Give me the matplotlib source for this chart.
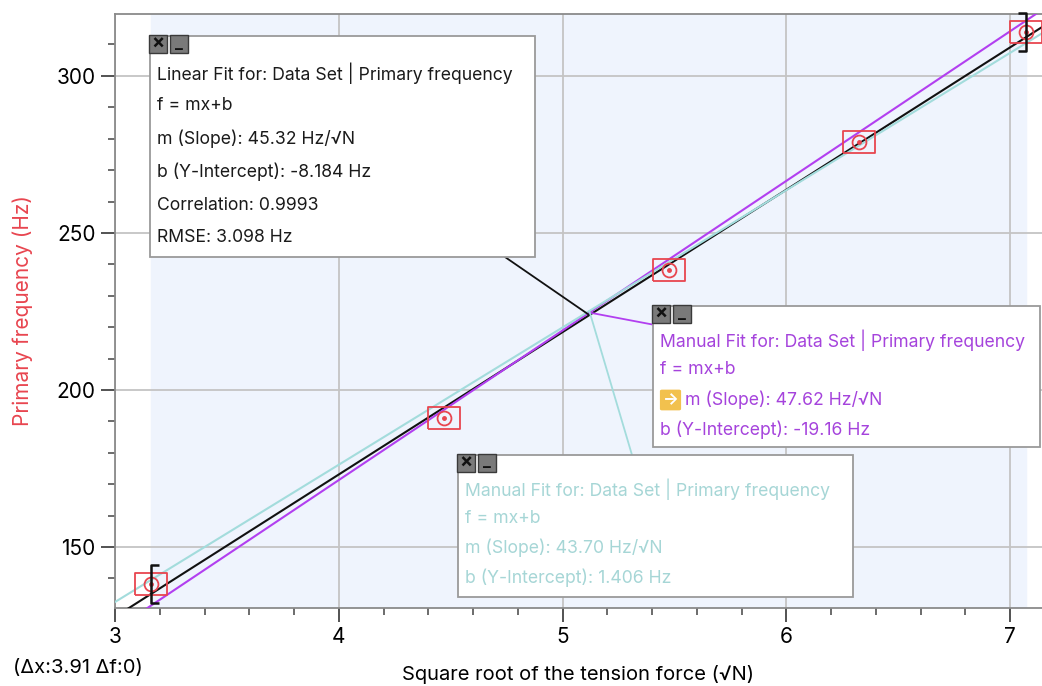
import matplotlib
matplotlib.use("Agg")
from matplotlib import pyplot as plt
from matplotlib.patches import Rectangle, FancyBboxPatch, ConnectionPatch
from matplotlib.path import Path
from matplotlib.ticker import MultipleLocator
import numpy as np

plt.rcParams['font.family'] = ['Inter', 'DejaVu Sans']

# data
sqrt_tension = [3.162, 4.472, 5.477, 6.325, 7.071]
frequency = [138.2, 191.1, 238.2, 279.0, 314.0]

fit_slopes = [45.32, 47.62, 43.70]
fit_intercepts = [-8.184, -19.16, 1.406]
fit_colors = ['#111111', '#b23ff0', '#a3dcdc']
anchor_x = 5.12

box_lines = [
    ["Linear Fit for: Data Set | Primary frequency", "f = mx+b",
     "m (Slope): 45.32 Hz/\u221aN", "b (Y-Intercept): -8.184 Hz",
     "Correlation: 0.9993", "RMSE: 3.098 Hz"],
    ["Manual Fit for: Data Set | Primary frequency", "f = mx+b",
     "m (Slope): 47.62 Hz/\u221aN", "b (Y-Intercept): -19.16 Hz"],
    ["Manual Fit for: Data Set | Primary frequency", "f = mx+b",
     "m (Slope): 43.70 Hz/\u221aN", "b (Y-Intercept): 1.406 Hz"],
]
text_colors = ['#1a1a1a', '#a543dc', '#a6d6d6']

W, H = 1042, 686
fig = plt.figure(figsize=(W / 100, H / 100), dpi=100)
ax = fig.add_axes([115 / W, 78 / H, 927 / W, 594 / H])


def fp(x, y):
    # pixel position -> figure fraction
    return x / W, 1 - y / H


ax.set_xlim(3, 7.143)
ax.set_ylim(130.6, 319.7)
ax.axvspan(sqrt_tension[0], sqrt_tension[-1], color='#eff4fd', zorder=0)

ax.xaxis.set_major_locator(MultipleLocator(1))
ax.xaxis.set_minor_locator(MultipleLocator(0.2))
ax.yaxis.set_major_locator(MultipleLocator(50))
ax.yaxis.set_minor_locator(MultipleLocator(10))
ax.grid(True, which='major', color='#c4c4c4', lw=1.3, zorder=1)
ax.tick_params(which='major', length=10, width=1.3, color='#444', labelsize=15, pad=4)
ax.tick_params(which='minor', length=5, width=1.1, color='#444')
for s in ['left', 'bottom', 'top']:
    ax.spines[s].set_color('#8a8a8a')
    ax.spines[s].set_linewidth(1.3)
ax.spines['right'].set_visible(False)

xs = np.array(ax.get_xlim())
for m, b, c in zip(fit_slopes, fit_intercepts, fit_colors):
    ax.plot(xs, m * xs + b, color=c, lw=1.5, zorder=3)

# data markers: wide red box with a circled dot
rect = Path([(-1.4, -1), (1.4, -1), (1.4, 1), (-1.4, 1), (-1.4, -1)])
ax.plot(sqrt_tension, frequency, ls='none', marker=rect, ms=23, mfc='none',
        mec='#e8454f', mew=1.3, zorder=4)
ax.plot(sqrt_tension, frequency, ls='none', marker='o', ms=10, mfc='none',
        mec='#e8454f', mew=1.3, zorder=4)
ax.plot(sqrt_tension, frequency, ls='none', marker='o', ms=2.5, color='#e8454f', zorder=4)

# selection brackets
left_br = Path([(0.45, 1), (0, 1), (0, -1), (0.45, -1)],
               [Path.MOVETO, Path.LINETO, Path.LINETO, Path.LINETO])
right_br = Path([(-0.45, 1), (0, 1), (0, -1), (-0.45, -1)],
                [Path.MOVETO, Path.LINETO, Path.LINETO, Path.LINETO])
ax.plot([sqrt_tension[0]], [frequency[0]], marker=left_br, ms=27, mfc='none',
        mec='#111', mew=1.8, zorder=5, clip_on=False)
ax.plot([sqrt_tension[-1]], [frequency[-1]], marker=right_br, ms=27, mfc='none',
        mec='#111', mew=1.8, zorder=5, clip_on=False)

ax.set_xlabel("Square root of the tension force (\u221aN)", fontsize=14.5, labelpad=13)
ax.set_ylabel("Primary frequency (Hz)", fontsize=15, color='#e8454f', labelpad=17)
fig.text(*fp(13, 668), "(\u0394x:3.91 \u0394f:0)", fontsize=14.5, va='center')

# leader lines from the fits to their boxes
leader_ends = [(505, 257), (655, 325), (632, 455)]
for m, b, c, end in zip(fit_slopes, fit_intercepts, fit_colors, leader_ends):
    con = ConnectionPatch(xyA=(anchor_x, m * anchor_x + b), coordsA=ax.transData,
                          xyB=fp(*end), coordsB=fig.transFigure,
                          color=c, lw=1.3, zorder=6)
    fig.add_artist(con)

# annotation boxes (pixel rectangles: left, top, right, bottom)
boxes = [(150, 36, 535, 257), (653, 306, 1040, 447), (458, 455, 853, 597)]
line_steps = [33, 30, 29.5]
first_line = [73, 340, 489]
for (l, t, r, bt), lines, tc, step, y0 in zip(boxes, box_lines, text_colors, line_steps, first_line):
    x0, y1 = fp(l, bt)
    fig.add_artist(Rectangle((x0, y1), (r - l) / W, (bt - t) / H, transform=fig.transFigure,
                             facecolor='white', edgecolor='#9a9a9a', lw=1.3, zorder=7))
    for k, g in enumerate(["\u00d7", "_"]):
        bx = l - 1 + k * 21
        fig.add_artist(Rectangle(fp(bx, t + 17), 18 / W, 18 / H, transform=fig.transFigure,
                                 facecolor='#7a7a7a', edgecolor='#3a3a3a', lw=1, zorder=8))
        fig.text(*fp(bx + 9, t + 7 if g == "_" else t + 8), g, fontsize=14 if g != "_" else 12,
                 color='#111', ha='center', va='center', zorder=9, fontweight='bold')
    for i, s in enumerate(lines):
        tx = l + 7
        if tc == '#a543dc' and i == 2:
            fig.add_artist(FancyBboxPatch(fp(l + 9, y0 + i * step + 9), 17 / W, 18 / H,
                                          boxstyle="round,pad=0.002", transform=fig.transFigure,
                                          facecolor='#f2c14e', edgecolor='none', zorder=8))
            fig.text(*fp(l + 18, y0 + i * step), "\u2192", fontsize=12, color='white',
                     fontweight='bold', ha='center', va='center', zorder=9)
            tx = l + 32
        fig.text(*fp(tx, y0 + i * step), s, fontsize=12.7, color=tc, va='center', zorder=9)

fig.savefig("out.png", dpi=100)
